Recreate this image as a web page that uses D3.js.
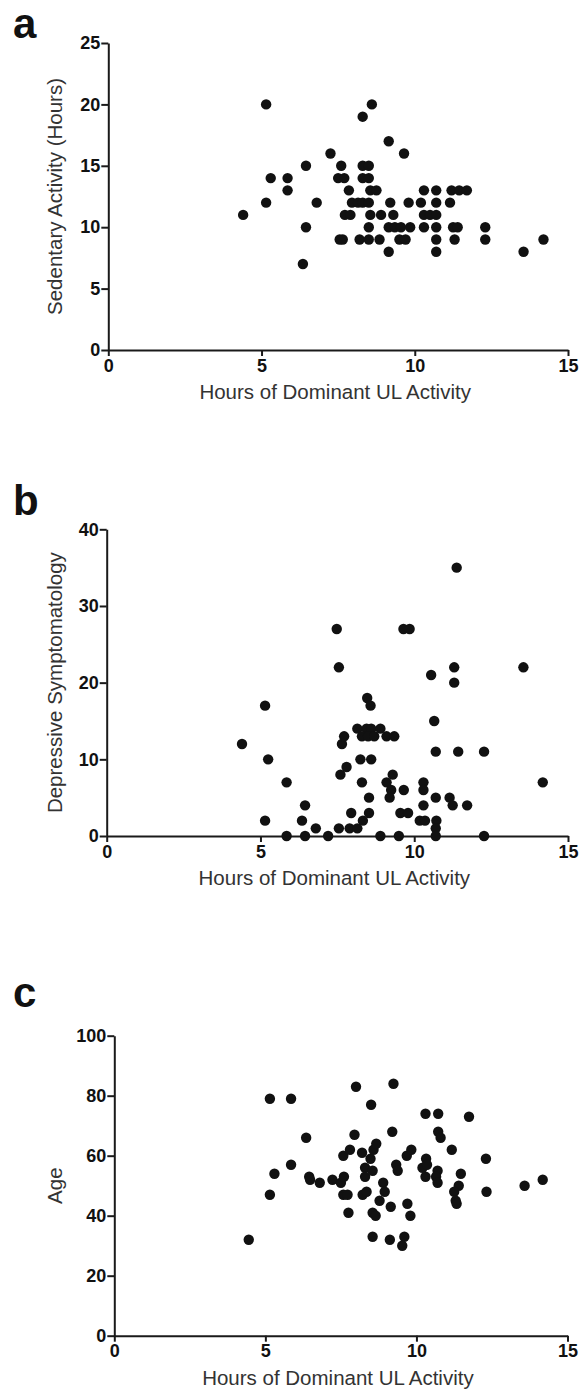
<!DOCTYPE html>
<html>
<head>
<meta charset="utf-8">
<script src="https://cdn.jsdelivr.net/npm/d3@7"></script>
<style>
    body { margin: 0; background: #fff; }
    svg { display: block; font-family: "Liberation Sans", Arial, Helvetica, sans-serif; }
</style>
</head>
<body>
<svg id="chart" width="582" height="1399"></svg>
<script>
// Shared x axis
const xTicks = [0, 5, 10, 15];
const xTitle = 'Hours of Dominant UL Activity';

// Panel a: sedentary activity vs UL activity hours
const sedentaryTicks = [0, 5, 10, 15, 20, 25];
const sedentaryPoints = [
    [4.4, 11], [5.15, 20], [5.15, 12], [5.3, 14], [5.85, 14], [5.85, 13],
    [6.45, 15], [6.8, 12], [6.45, 10], [6.35, 7], [7.25, 16], [7.6, 15],
    [7.5, 14], [7.7, 14], [7.85, 13], [7.72, 11], [7.9, 11], [7.55, 9], [7.65, 9],
    [7.95, 12], [8.15, 12], [8.3, 12], [8.5, 12], [8.3, 19], [8.6, 20],
    [8.3, 15], [8.5, 15], [8.3, 14], [8.5, 14], [8.55, 13], [8.75, 13],
    [8.55, 11], [8.9, 11], [9.3, 11], [8.5, 10], [8.2, 9], [8.5, 9], [8.85, 9],
    [9.15, 17], [9.65, 16], [9.2, 12], [9.8, 12], [10.2, 12], [10.7, 12], [11.15, 12],
    [10.3, 13], [10.7, 13], [11.2, 13], [11.45, 13], [11.7, 13],
    [10.3, 11], [10.5, 11], [10.7, 11],
    [9.15, 10], [9.35, 10], [9.55, 10], [9.85, 10], [10.3, 10], [10.7, 10],
    [11.25, 10], [11.4, 10], [12.3, 10],
    [9.5, 9], [9.7, 9], [10.7, 9], [11.3, 9], [12.3, 9], [14.2, 9],
    [9.15, 8], [10.7, 8], [13.55, 8]
];

// Panel b: depressive symptomatology vs UL activity hours
const depressiveTicks = [0, 10, 20, 30, 40];
const depressivePoints = [
    [4.4, 12], [5.15, 17], [5.25, 10], [5.15, 2], [5.85, 7], [5.85, 0],
    [6.45, 4], [6.35, 2], [6.45, 0], [6.8, 1], [7.2, 0], [7.48, 27], [7.55, 22],
    [7.55, 1], [7.6, 8], [7.8, 9], [7.65, 12], [7.72, 13], [7.95, 3], [7.9, 1],
    [8.15, 1], [8.33, 2], [8.3, 7], [8.25, 10], [8.6, 10], [8.53, 5], [8.53, 3],
    [8.47, 18], [8.58, 17], [8.15, 14], [8.45, 14], [8.6, 14], [8.9, 14],
    [8.3, 13], [8.5, 13], [8.7, 13], [9.1, 13], [9.35, 13], [8.9, 0],
    [9.3, 8], [9.1, 7], [9.25, 6], [9.2, 5], [9.5, 0], [9.55, 3], [9.8, 3],
    [9.66, 6], [9.65, 27], [9.85, 27], [10.3, 7], [10.3, 6], [10.3, 4],
    [10.18, 2], [10.35, 2], [10.55, 21], [10.65, 15], [10.7, 11], [10.7, 5],
    [10.72, 2], [10.7, 1], [10.7, 0], [11.15, 5], [11.25, 4], [11.3, 22],
    [11.3, 20], [11.38, 35], [11.43, 11], [11.72, 4], [12.27, 11], [12.27, 0],
    [13.55, 22], [14.18, 7]
];

// Panel c: age vs UL activity hours
const ageTicks = [0, 20, 40, 60, 80, 100];
const agePoints = [
    [4.45, 32], [5.15, 79], [5.15, 47], [5.3, 54], [5.85, 79], [5.85, 57],
    [6.35, 66], [6.45, 53], [6.48, 52], [6.8, 51], [7.22, 52], [7.5, 51],
    [7.6, 53], [7.58, 60], [7.58, 47], [7.72, 47], [7.75, 41], [7.95, 67],
    [7.8, 62], [8.0, 83], [8.2, 61], [8.22, 47], [8.35, 48], [8.3, 56],
    [8.3, 53], [8.55, 55], [8.5, 77], [8.48, 59], [8.58, 62], [8.67, 64],
    [8.55, 41], [8.65, 40], [8.55, 33], [8.78, 45], [8.9, 51], [8.95, 48],
    [9.15, 43], [9.12, 32], [9.2, 68], [9.24, 84], [9.33, 57], [9.38, 55],
    [9.6, 33], [9.53, 30], [9.7, 44], [9.68, 60], [9.83, 62], [9.8, 40],
    [10.3, 74], [10.2, 56], [10.32, 59], [10.35, 57], [10.3, 53], [10.72, 74],
    [10.72, 68], [10.8, 66], [10.7, 55], [10.65, 53], [10.7, 51], [11.17, 62],
    [11.47, 54], [11.4, 50], [11.25, 48], [11.3, 45], [11.33, 44], [11.74, 73],
    [12.3, 59], [12.32, 48], [13.58, 50], [14.18, 52]
];

const panels = [
    { letter: 'a', letterY: 38, left: 108.3, right: 568, top: 43, bottom: 350,
      yMax: 25, ticks: sedentaryTicks, points: sedentaryPoints, yTitle: 'Sedentary Activity (Hours)' },
    { letter: 'b', letterY: 515, left: 106.7, right: 568, top: 529.3, bottom: 836,
      yMax: 40, ticks: depressiveTicks, points: depressivePoints, yTitle: 'Depressive Symptomatology' },
    { letter: 'c', letterY: 1007, left: 114.3, right: 567.5, top: 1035.7, bottom: 1335.7,
      yMax: 100, ticks: ageTicks, points: agePoints, yTitle: 'Age' }
];

const svg = d3.select('#chart');

function styleAxis(sel) {
    sel.select('.domain').attr('stroke', '#1a1a1a').attr('stroke-width', 2);
    sel.selectAll('.tick line').attr('stroke', '#1a1a1a').attr('stroke-width', 2);
    sel.selectAll('.tick text')
        .attr('fill', '#111')
        .attr('font-size', 18)
        .attr('font-weight', 'bold')
        .attr('font-family', '"Liberation Sans", Arial, sans-serif');
}

function drawPanel(p) {
    const x = d3.scaleLinear().domain([0, 15]).range([p.left, p.right]);
    const y = d3.scaleLinear().domain([0, p.yMax]).range([p.bottom, p.top]);
    const g = svg.append('g');

    // Panel letter
    g.append('text')
        .attr('x', 13)
        .attr('y', p.letterY)
        .attr('font-size', 42)
        .attr('font-weight', 'bold')
        .attr('fill', '#111')
        .text(p.letter);

    // Axes
    const xAxis = g.append('g')
        .attr('transform', `translate(0,${p.bottom})`)
        .call(d3.axisBottom(x).tickValues(xTicks).tickSize(6).tickSizeOuter(0).tickPadding(3));
    styleAxis(xAxis);

    const yAxis = g.append('g')
        .attr('transform', `translate(${p.left},0)`)
        .call(d3.axisLeft(y).tickValues(p.ticks).tickSize(7).tickSizeOuter(0).tickPadding(1));
    styleAxis(yAxis);

    // Axis titles
    g.append('text')
        .attr('x', (p.left + p.right) / 2 - 3)
        .attr('y', p.bottom + 49)
        .attr('text-anchor', 'middle')
        .attr('font-size', 20.5)
        .attr('fill', '#333')
        .text(xTitle);

    g.append('text')
        .attr('transform', `translate(62,${(p.top + p.bottom) / 2}) rotate(-90)`)
        .attr('text-anchor', 'middle')
        .attr('font-size', 20.5)
        .attr('fill', '#333')
        .text(p.yTitle);

    // Points
    g.append('g')
        .selectAll('circle')
        .data(p.points)
        .join('circle')
        .attr('cx', d => x(d[0]))
        .attr('cy', d => y(d[1]))
        .attr('r', 5.2)
        .attr('fill', '#111');
}

panels.forEach(drawPanel);
</script>
</body>
</html>
